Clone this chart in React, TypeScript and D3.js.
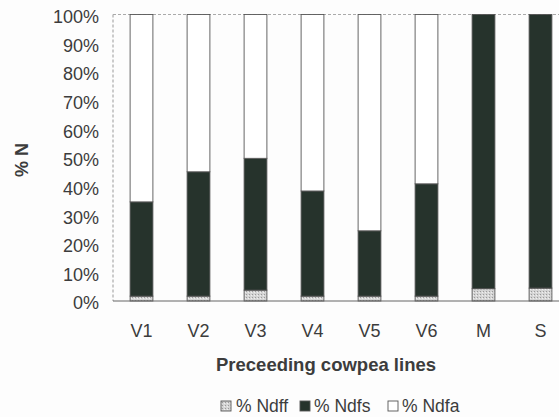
import React from "react";
import * as d3 from "d3";

const categories = ["V1", "V2", "V3", "V4", "V5", "V6", "M", "S"];
const ndff = [1.7, 1.7, 3.8, 1.7, 1.7, 1.7, 4.3, 4.5];
const ndfs = [32.9, 43.4, 46.0, 36.7, 22.8, 39.2, 95.7, 95.5];
const ndfa = [65.4, 54.9, 50.2, 61.6, 75.5, 59.1, 0, 0];
const yTicks = [0, 10, 20, 30, 40, 50, 60, 70, 80, 90, 100];
const seriesNames = ["% Ndff", "% Ndfs", "% Ndfa"];

const W = 559;
const H = 417;
const left = 113;
const right = 569;
const top = 14.5;
const bottom = 301;
const FONT = "'Liberation Sans', Arial, sans-serif";
const TEXT = "#3c3c3c";
const DARK = "#26332c";

export default function App() {
  const x = d3.scaleBand<string>().domain(categories).range([left, right]).paddingInner(0.6).paddingOuter(0.3);
  const y = d3.scaleLinear().domain([0, 100]).range([bottom, top]);

  const rows = categories.map((c, i) => ({ cat: c, ndff: ndff[i], ndfs: ndfs[i], ndfa: ndfa[i] }));
  const stack = d3.stack<any>().keys(["ndff", "ndfs", "ndfa"]);
  const layers = stack(rows);
  const fills = ["url(#ndffPat)", DARK, "#ffffff"];

  const legendItems = [
    { x: 221, tx: 236, fill: "url(#ndffPat)", label: seriesNames[0] },
    { x: 300, tx: 314, fill: DARK, label: seriesNames[1] },
    { x: 388, tx: 402, fill: "#ffffff", label: seriesNames[2] },
  ];

  return (
    <svg width={W} height={H} style={{ position: "absolute", left: 0, top: 0, background: "#fdfdfd" }}>
      <defs>
        <pattern id="ndffPat" width="3" height="3" patternUnits="userSpaceOnUse">
          <rect width="3" height="3" fill="#d4d4d4" />
          <rect x="0" y="0" width="1" height="1" fill="#9a9a9a" />
          <rect x="2" y="1" width="1" height="1" fill="#efefef" />
        </pattern>
      </defs>
      {/* frame */}
      <line x1={left} x2={left} y1={top} y2={bottom} stroke="#999" strokeWidth={1} strokeDasharray="3,2" />
      <line x1={left} x2={W} y1={top} y2={top} stroke="#aaa" strokeWidth={1} strokeDasharray="3,2" />
      {/* bars */}
      {layers.map((layer, li) =>
        layer.map((d, i) => (
          <rect
            key={`${li}-${i}`}
            x={x(categories[i])}
            width={x.bandwidth()}
            y={y(d[1])}
            height={Math.max(0, y(d[0]) - y(d[1]))}
            fill={fills[li]}
            stroke="#555"
            strokeWidth={0.9}
          />
        ))
      )}
      <line x1={left} x2={W} y1={bottom} y2={bottom} stroke="#666" strokeWidth={1.2} />
      {/* y ticks */}
      {yTicks.map((t) => (
        <text key={t} x={99} y={y(t) + 2} dy="0.36em" textAnchor="end" fontFamily={FONT} fontSize={18} fill={TEXT}>
          {t}%
        </text>
      ))}
      {/* x labels */}
      {categories.map((c) => (
        <text key={c} x={(x(c) as number) + x.bandwidth() / 2} y={331} dy="0.36em" textAnchor="middle" fontFamily={FONT} fontSize={18} fill={TEXT}>
          {c}
        </text>
      ))}
      <text x={326} y={364} dy="0.36em" textAnchor="middle" fontFamily={FONT} fontSize={18.5} fontWeight="bold" fill={TEXT}>
        Preceeding cowpea lines
      </text>
      <text transform={`translate(22,160) rotate(-90)`} dy="0.36em" textAnchor="middle" fontFamily={FONT} fontSize={18} fontWeight="bold" fill={TEXT}>
        % N
      </text>
      {/* legend */}
      {legendItems.map((l) => (
        <g key={l.label}>
          <rect x={l.x} y={401} width={10} height={10} fill={l.fill} stroke="#555" strokeWidth={0.9} />
          <text x={l.tx} y={406} dy="0.36em" fontFamily={FONT} fontSize={17.5} fill={TEXT}>
            {l.label}
          </text>
        </g>
      ))}
    </svg>
  );
}
